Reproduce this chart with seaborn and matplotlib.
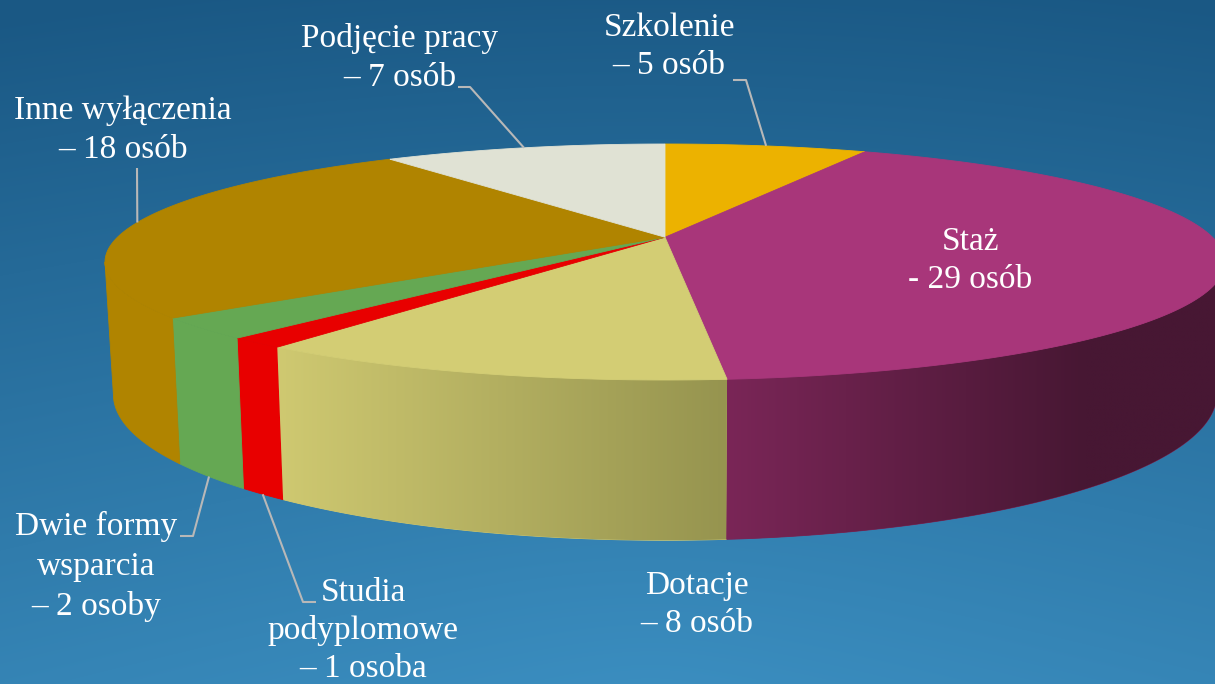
import numpy as np
import matplotlib
matplotlib.use("Agg")
import matplotlib.pyplot as plt
import seaborn as sns
from matplotlib.patches import Polygon
from matplotlib.colors import LinearSegmentedColormap, to_rgb

# ---------------- data ----------------
categories = ["Szkolenie", "Staż", "Dotacje", "Studia podyplomowe",
              "Dwie formy wsparcia", "Inne wyłączenia", "Podjęcie pracy"]
values = [5, 29, 8, 1, 2, 18, 7]
label_lines = [
    ["Szkolenie", "– 5 osób"],
    ["Staż", "- 29 osób"],
    ["Dotacje", "– 8 osób"],
    ["Studia", "podyplomowe", "– 1 osoba"],
    ["Dwie formy", "wsparcia", "– 2 osoby"],
    ["Inne wyłączenia", "– 18 osób"],
    ["Podjęcie pracy", "– 7 osób"],
]
top_colors = ["#ecb200", "#a8367a", "#d3cd74", "#e80000", "#65a853", "#b08400", "#e0e2d4"]
wall_colors = [("#ecb200", "#ecb200"), ("#7a2657", "#471733"), ("#cfc971", "#96944f"),
               ("#e80000", "#e80000"), ("#65a853", "#65a853"), ("#b08400", "#b08400"),
               ("#e0e2d4", "#e0e2d4")]

# ---------------- layout ----------------
W, H = 1215, 684
CX, ECY, A, B = 665.0, 262.0, 560.0, 118.0
T = 0.21          # perspective shift
H0 = 129.5        # wall depth
K = 0.985         # bottom rim shrink
S = np.sqrt(1 - T ** 2)

# label placement: (x, first baseline y, line step), leader path start points
label_pos = [(669, 36, 38), (970, 250, 38), (697, 594, 38), (363, 601, 38),
             (96, 535, 40), (123, 119, 39), (400, 47, 39)]
leader_start = [[(733, 80), (746, 80)], None, None, [(316, 602), (303, 602)],
                [(180, 536), (193, 536)], [(137, 168)], [(458, 87), (470, 87)]]
leader_on_bottom = [False, False, False, True, True, False, False]


def top_pt(th):
    s, c = np.sin(th), np.cos(th)
    den = 1 + T * c
    return CX + A * s * S / den, ECY - B * (c + T) / den


def bot_pt(th):
    x, y = top_pt(th)
    c = np.cos(th)
    d = H0 * S / (1 + T * c)
    return CX + (x - CX) * K, y + d


sns.set_theme(style="white")
plt.rcParams["font.family"] = ["Liberation Serif", "DejaVu Serif"]
palette = sns.color_palette(top_colors)

fig = plt.figure(figsize=(W / 100, H / 100), dpi=100)
ax = fig.add_axes([0, 0, 1, 1])

# background gradient
yy, xx = np.mgrid[0:H, 0:W]
f = np.clip(0.75 * yy / H + 0.25 * (1 - np.hypot(xx - 650, yy - 720) / 900), 0, 1)
c0 = np.array(to_rgb("#1a5884"))
c1 = np.array(to_rgb("#3b8ec0"))
bg = c0[None, None, :] * (1 - f[..., None]) + c1[None, None, :] * f[..., None]
ax.imshow(bg, extent=[0, W, H, 0], aspect="auto", zorder=0, interpolation="bilinear")

total = float(sum(values))
bounds = 2 * np.pi * np.concatenate([[0], np.cumsum(values)]) / total
vis0, vis1 = np.arccos(-T), 2 * np.pi - np.arccos(-T)

# walls
for i in range(len(values)):
    a0, a1 = max(bounds[i], vis0), min(bounds[i + 1], vis1)
    if a1 <= a0:
        continue
    th = np.linspace(a0, a1, 200)
    tx, ty = top_pt(th)
    bx, by = bot_pt(th)
    poly = np.column_stack([np.concatenate([tx, bx[::-1]]), np.concatenate([ty, by[::-1]])])
    cl, cr = wall_colors[i]
    if cl == cr:
        ax.add_patch(Polygon(poly, closed=True, facecolor=cl, edgecolor=cl, lw=0.6, zorder=2))
    else:
        patch = Polygon(poly, closed=True, facecolor=cl, edgecolor=cl, lw=0.6, zorder=2)
        ax.add_patch(patch)
        x0, x1 = poly[:, 0].min(), poly[:, 0].max()
        y0, y1 = poly[:, 1].min(), poly[:, 1].max()
        if i == 1:
            cmap = LinearSegmentedColormap.from_list("g", [(0, cl), (0.72, cr), (1, cr)])
        else:
            cmap = LinearSegmentedColormap.from_list("g", [cl, cr])
        im = ax.imshow(np.linspace(0, 1, 256)[None, :], cmap=cmap, extent=[x0, x1, y1, y0],
                       aspect="auto", zorder=2.1, interpolation="bilinear")
        im.set_clip_path(patch)

# tops
ccx, ccy = CX, ECY - B * T
for i in range(len(values)):
    th = np.linspace(bounds[i], bounds[i + 1], 200)
    tx, ty = top_pt(th)
    poly = np.column_stack([np.concatenate([[ccx], tx]), np.concatenate([[ccy], ty])])
    ax.add_patch(Polygon(poly, closed=True, facecolor=palette[i], edgecolor=palette[i],
                         lw=0.6, zorder=3))

# labels & leaders
for i in range(len(values)):
    x, y, step = label_pos[i]
    for j, line in enumerate(label_lines[i]):
        ax.text(x, y + j * step, line, ha="center", va="baseline", color="white",
                fontsize=24, zorder=5)
    if leader_start[i] is not None:
        mid = 0.5 * (bounds[i] + bounds[i + 1])
        ex, ey = bot_pt(mid) if leader_on_bottom[i] else top_pt(mid)
        pts = leader_start[i] + [(ex, ey)]
        ax.plot([p[0] for p in pts], [p[1] for p in pts], color="#b8b8b8", lw=1.5,
                zorder=4, solid_capstyle="butt")

ax.set_xlim(0, W)
ax.set_ylim(H, 0)
ax.axis("off")
fig.savefig("out.png", dpi=100)
